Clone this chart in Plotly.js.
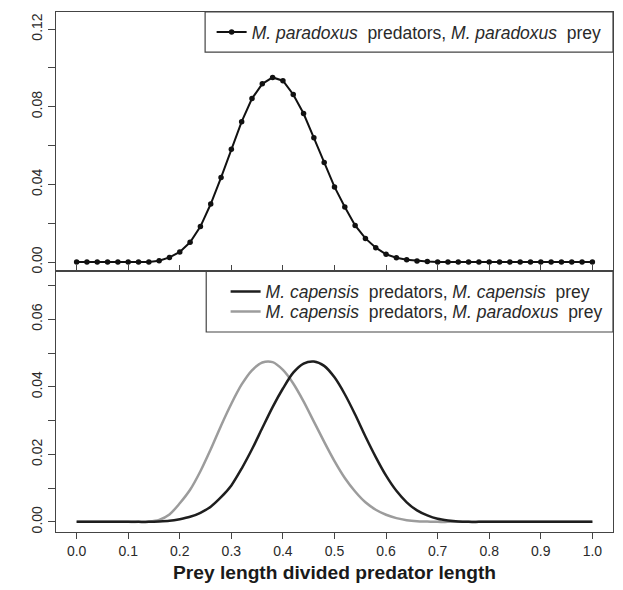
<!DOCTYPE html>
<html>
<head>
<meta charset="utf-8">
<script src="https://cdn.plot.ly/plotly-3.0.1.min.js"></script>
<style>
  html, body { margin: 0; padding: 0; background: #ffffff; }
  #chart { width: 623px; height: 590px; }
</style>
</head>
<body>
<div id="chart"></div>
<script>
// Prey length / predator length grid
const preyRatio = [0.00, 0.02, 0.04, 0.06, 0.08, 0.10, 0.12, 0.14, 0.16, 0.18,
                   0.20, 0.22, 0.24, 0.26, 0.28, 0.30, 0.32, 0.34, 0.36, 0.38,
                   0.40, 0.42, 0.44, 0.46, 0.48, 0.50, 0.52, 0.54, 0.56, 0.58,
                   0.60, 0.62, 0.64, 0.66, 0.68, 0.70, 0.72, 0.74, 0.76, 0.78,
                   0.80, 0.82, 0.84, 0.86, 0.88, 0.90, 0.92, 0.94, 0.96, 0.98, 1.00];

// Preference: M. paradoxus predators on M. paradoxus prey
const paradoxusOnParadoxus = [0, 0, 0, 0, 0, 0, 0, 0.0001, 0.0007, 0.0024,
                              0.0052, 0.0102, 0.0183, 0.0299, 0.0435, 0.0581, 0.0723, 0.0842, 0.0918, 0.0951,
                              0.0934, 0.0863, 0.0765, 0.0640, 0.0513, 0.0387, 0.0284, 0.0189, 0.0122, 0.0074,
                              0.0040, 0.0022, 0.0012, 0.0006, 0.0003, 0.0001, 0, 0, 0, 0,
                              0, 0, 0, 0, 0, 0, 0, 0, 0, 0, 0];

// Preference: M. capensis predators on M. capensis prey
const capensisOnCapensis = [0, 0, 0, 0, 0, 0, 0, 0, 0.0001, 0.0003,
                            0.0008, 0.0015, 0.0027, 0.0045, 0.0073, 0.0108, 0.0158, 0.0215, 0.0278, 0.0340,
                            0.0395, 0.0442, 0.0469, 0.0475, 0.0462, 0.0428, 0.0378, 0.0318, 0.0253, 0.0192,
                            0.0137, 0.0092, 0.0058, 0.0034, 0.0019, 0.0009, 0.0004, 0.0001, 0, 0,
                            0, 0, 0, 0, 0, 0, 0, 0, 0, 0, 0];

// Preference: M. capensis predators on M. paradoxus prey
const capensisOnParadoxus = [0, 0, 0, 0, 0, 0, 0, 0.0001, 0.0006, 0.0022,
                             0.0055, 0.0095, 0.0150, 0.0215, 0.0285, 0.0350, 0.0407, 0.0449, 0.0472, 0.0473,
                             0.0450, 0.0410, 0.0357, 0.0297, 0.0237, 0.0180, 0.0130, 0.0090, 0.0058, 0.0036,
                             0.0021, 0.0011, 0.0005, 0.0002, 0.0001, 0, 0, 0, 0, 0,
                             0, 0, 0, 0, 0, 0, 0, 0, 0, 0, 0];

const seriesNames = [
  '<i>M. paradoxus</i>  predators, <i>M. paradoxus</i>  prey',
  '<i>M. capensis</i>  predators, <i>M. capensis</i>  prey',
  '<i>M. capensis</i>  predators, <i>M. paradoxus</i>  prey'
];

const FONT = 'Liberation Sans, Arial, Helvetica, sans-serif';
const AXIS_COL = '#444444';
const TEXT_COL = '#2a2a2a';
const LEGEND_SIZE = 17.5;

const traces = [
  {
    x: preyRatio, y: paradoxusOnParadoxus, name: seriesNames[0],
    xaxis: 'x2', yaxis: 'y2', legend: 'legend',
    type: 'scatter', mode: 'lines+markers',
    line: { color: '#111111', width: 2 },
    marker: { color: '#111111', size: 5.5 }
  },
  {
    x: preyRatio, y: capensisOnParadoxus, name: seriesNames[2],
    xaxis: 'x', yaxis: 'y', legend: 'legend3',
    type: 'scatter', mode: 'lines',
    line: { color: '#9c9c9c', width: 2.5, shape: 'spline', smoothing: 0.8 }
  },
  {
    x: preyRatio, y: capensisOnCapensis, name: seriesNames[1],
    xaxis: 'x', yaxis: 'y', legend: 'legend2',
    type: 'scatter', mode: 'lines',
    line: { color: '#1e1e1e', width: 2.5, shape: 'spline', smoothing: 0.8 }
  }
];

const split = 0.5019;

const baseX = {
  range: [-0.04, 1.04], tick0: 0, dtick: 0.1,
  showline: true, mirror: true, linecolor: AXIS_COL, linewidth: 1.2,
  showgrid: false, zeroline: false, tickcolor: AXIS_COL, tickwidth: 1
};
const baseY = {
  showline: true, mirror: true, linecolor: AXIS_COL, linewidth: 1.2,
  showgrid: false, zeroline: false, ticks: 'outside', ticklen: 7,
  tickcolor: AXIS_COL, tickwidth: 1, tickangle: -90, tickformat: '.2f',
  tickfont: { family: FONT, size: 14, color: TEXT_COL }
};

function legendAt(x, y) {
  return {
    x: x, xanchor: 'left', y: y, yanchor: 'middle',
    bgcolor: 'rgba(0,0,0,0)', borderwidth: 0,
    font: { family: FONT, size: LEGEND_SIZE, color: TEXT_COL }
  };
}

const layout = {
  width: 623, height: 590,
  margin: { l: 56, r: 10, t: 12, b: 58 },
  paper_bgcolor: '#ffffff', plot_bgcolor: '#ffffff',
  font: { family: FONT, color: TEXT_COL },
  xaxis: Object.assign({}, baseX, {
    anchor: 'y', ticks: 'outside', ticklen: 6, tickformat: '.1f',
    tickfont: { family: FONT, size: 14, color: TEXT_COL },
    title: { text: 'Prey length divided predator length', standoff: 7,
             font: { family: FONT, size: 19.2, weight: 'bold', color: '#1a1a1a' } }
  }),
  xaxis2: Object.assign({}, baseX, {
    anchor: 'y2', ticks: 'inside', ticklen: 6, showticklabels: false
  }),
  yaxis: Object.assign({}, baseY, {
    domain: [0, split], range: [-0.003, 0.0743], tick0: 0, dtick: 0.02,
    minor: { dtick: 0.01, ticks: 'outside', ticklen: 7, tickcolor: AXIS_COL, tickwidth: 1 }
  }),
  yaxis2: Object.assign({}, baseY, {
    domain: [split, 1], range: [-0.0046, 0.1288], tick0: 0, dtick: 0.04,
    minor: { dtick: 0.02, ticks: 'outside', ticklen: 7, tickcolor: AXIS_COL, tickwidth: 1 }
  }),
  showlegend: true,
  legend: legendAt(0.2794, 0.9615),
  legend2: legendAt(0.3045, 0.4621),
  legend3: legendAt(0.3045, 0.4237),
  shapes: [
    { type: 'rect', xref: 'paper', yref: 'paper', x0: 0.2677, x1: 1, y0: 0.923, y1: 1,
      line: { color: AXIS_COL, width: 1.2 }, fillcolor: 'rgba(0,0,0,0)', layer: 'above' },
    { type: 'rect', xref: 'paper', yref: 'paper', x0: 0.2697, x1: 1, y0: 0.3846, y1: split,
      line: { color: AXIS_COL, width: 1.2 }, fillcolor: 'rgba(0,0,0,0)', layer: 'above' }
  ]
};

Plotly.newPlot('chart', traces, layout, { displayModeBar: false, staticPlot: true });
</script>
</body>
</html>
